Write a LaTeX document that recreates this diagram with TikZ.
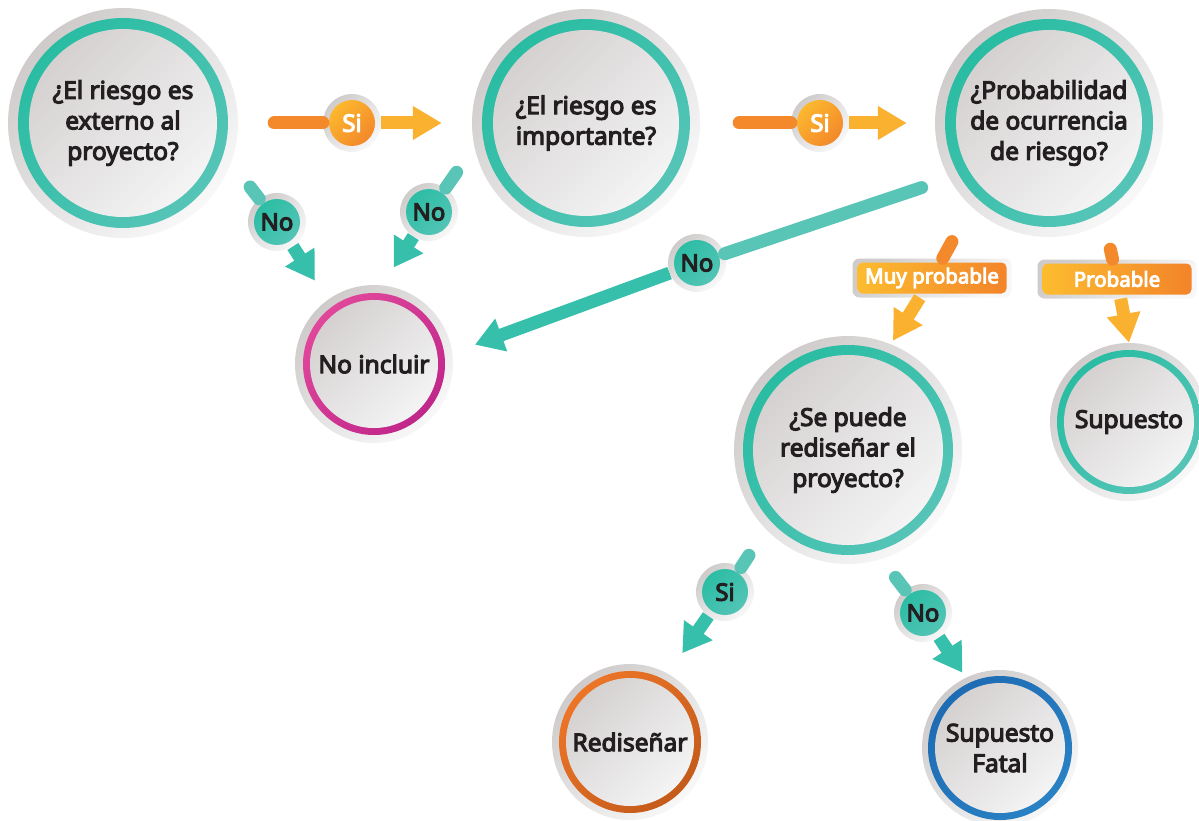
\documentclass[tikz,border=0pt]{standalone}
\usepackage{fontspec}
\setmainfont{Noto Sans}[AutoFakeBold=4.5]
\usetikzlibrary{arrows.meta}
\definecolor{txt}{HTML}{231F20}
\definecolor{gD}{HTML}{CFCBCB}
\definecolor{gL}{HTML}{F8F8F8}
\definecolor{iD}{HTML}{D5D1D1}
\definecolor{iL}{HTML}{F4F4F4}
\definecolor{tealD}{HTML}{27BCA2}
\definecolor{tealL}{HTML}{58C5B8}
\definecolor{pinkD}{HTML}{E2499C}
\definecolor{pinkL}{HTML}{BE2589}
\definecolor{oraD}{HTML}{EE7628}
\definecolor{oraL}{HTML}{C25A1A}
\definecolor{bluD}{HTML}{1D6BB3}
\definecolor{bluL}{HTML}{2A82C4}
\definecolor{tealA}{HTML}{58C5B7}
\definecolor{tealB}{HTML}{36BFAA}
\definecolor{orgA}{HTML}{F3892B}
\definecolor{yelB}{HTML}{FBB130}
\definecolor{yel}{HTML}{FDBE2F}
\definecolor{org}{HTML}{F2822A}
\newcommand{\mainf}{\fontsize{24.5pt}{30.5pt}\selectfont\bfseries}
\newcommand{\labf}{\fontsize{24pt}{28pt}\selectfont\bfseries}
\newcommand{\rlabf}{\fontsize{20.5pt}{24pt}\selectfont\bfseries}
\begin{document}
\begin{tikzpicture}[x=1pt,y=-1pt,
  bubble/.style n args={5}{circle, inner sep=0pt, minimum size=#1,
    top color=gD, bottom color=gL, shading angle=45,
    text=txt, align=center, font=\mainf,
    path picture={
      \shade[top color=#2, bottom color=#3, shading angle=45] (path picture bounding box.center) circle (#4);
      \shade[top color=iD, bottom color=iL, shading angle=45] (path picture bounding box.center) circle (#5);
    }},
  lab/.style n args={3}{circle, inner sep=0pt, minimum size=58pt,
    top color=gD, bottom color=gL, shading angle=45,
    text=#3, font=\labf,
    path picture={
      \shade[top color=#1, bottom color=#2, shading angle=45] (path picture bounding box.center) circle (23pt);
    }},
  rlab/.style={rectangle, rounded corners=7pt, inner sep=0pt, minimum width=159pt, minimum height=39pt,
    top color=gD, bottom color=gL, shading angle=45, text=white, font=\rlabf,
    path picture={
      \shade[left color=yel, right color=org, rounded corners=5pt]
        ([shift={(5pt,4pt)}]path picture bounding box.south west) rectangle
        ([shift={(-5pt,-4pt)}]path picture bounding box.north east);
    }},
  tline/.style={line width=13pt, draw=tealA, line cap=round},
  tarrow/.style={line width=13pt, draw=tealB, -{Triangle[length=28pt,width=33pt]}},
  oline/.style={line width=13pt, draw=orgA, line cap=round},
  oarrow/.style={line width=13pt, draw=yelB, -{Triangle[length=29pt,width=32pt]}},
]
\fill[white] (0,0) rectangle (1199,821);
\useasboundingbox (0,0) rectangle (1199,821);

% main bubbles
\node[bubble={230pt}{tealD}{tealL}{105pt}{94pt}] (q1) at (123,123) {¿El riesgo es\\externo al\\proyecto?};
\node[bubble={228pt}{tealD}{tealL}{104pt}{93pt}] (q2) at (586,123) {¿El riesgo es\\importante?};
\node[bubble={228pt}{tealD}{tealL}{104pt}{93pt}] (q3) at (1049,123) {¿Probabilidad\\de ocurrencia\\de riesgo?};
\node[bubble={158pt}{pinkD}{pinkL}{71pt}{64pt}] (noinc) at (374,364) {No incluir};
\node[bubble={228pt}{tealD}{tealL}{105pt}{95pt}] (se) at (848,450) {¿Se puede\\rediseñar el\\proyecto?};
\node[bubble={158pt}{tealD}{tealL}{72pt}{65pt}] (sup) at (1129,422) {Supuesto};
\node[bubble={156pt}{oraD}{oraL}{71pt}{64pt}] (red) at (630,742) {Rediseñar};
\node[bubble={156pt}{bluD}{bluL}{72pt}{65pt}] (fatal) at (1000,748) {Supuesto\\Fatal};

% labels
\node[lab={yel}{org}{white}] (si1) at (352,123) {Si};
\node[lab={yel}{org}{white}] (si2) at (820,123) {Si};
\node[lab={tealD}{tealL}{txt}] (no1) at (277,222) {No};
\node[lab={tealD}{tealL}{txt}] (no2) at (429,212) {No};
\node[lab={tealD}{tealL}{txt}] (no3) at (697,263) {No};
\node[lab={tealD}{tealL}{txt}] (si3) at (725,592) {Si};
\node[lab={tealD}{tealL}{txt}] (no4) at (923,613) {No};
\node[rlab] (muy) at (932,278) {Muy probable};
\node[rlab] (prob) at (1117,279) {Probable};

% connectors
\draw[oline, shorten <=36pt] (q1.east) -- (si1);
\draw[oarrow, shorten >=30pt] (si1) -- (q2.west);
\draw[oline, shorten <=39pt] (q2.east) -- (si2);
\draw[oarrow, shorten >=28pt] (si2) -- (q3.west);

\draw[tline, shorten <=31pt] (q1.-20) -- (no1);
\draw[tarrow, shorten >=23pt] (no1) -- (noinc.126);
\draw[tline, shorten <=31pt] (q2.192) -- (no2);
\draw[tarrow, shorten >=21pt] (no2) -- (noinc.84);
\draw[tline, shorten <=29pt] (q3.209) -- (no3);
\draw[tarrow, shorten >=24pt] (no3) -- (noinc.8);

\draw[oline, shorten <=40pt] (q3.227) -- (muy);
\draw[oarrow, shorten >=4pt] (muy) -- (se.68);
\draw[oline, shorten <=27pt] (q3.-61) -- (prob);
\draw[oarrow] (prob) -- (sup.90);

\draw[tline, shorten <=31pt] (se.224) -- (si3);
\draw[tarrow, shorten >=25pt] (si3) -- (red.61);
\draw[tline, shorten <=23pt] (se.-73) -- (no4);
\draw[tarrow, shorten >=6pt] (no4) -- (fatal.116);
\end{tikzpicture}
\end{document}
